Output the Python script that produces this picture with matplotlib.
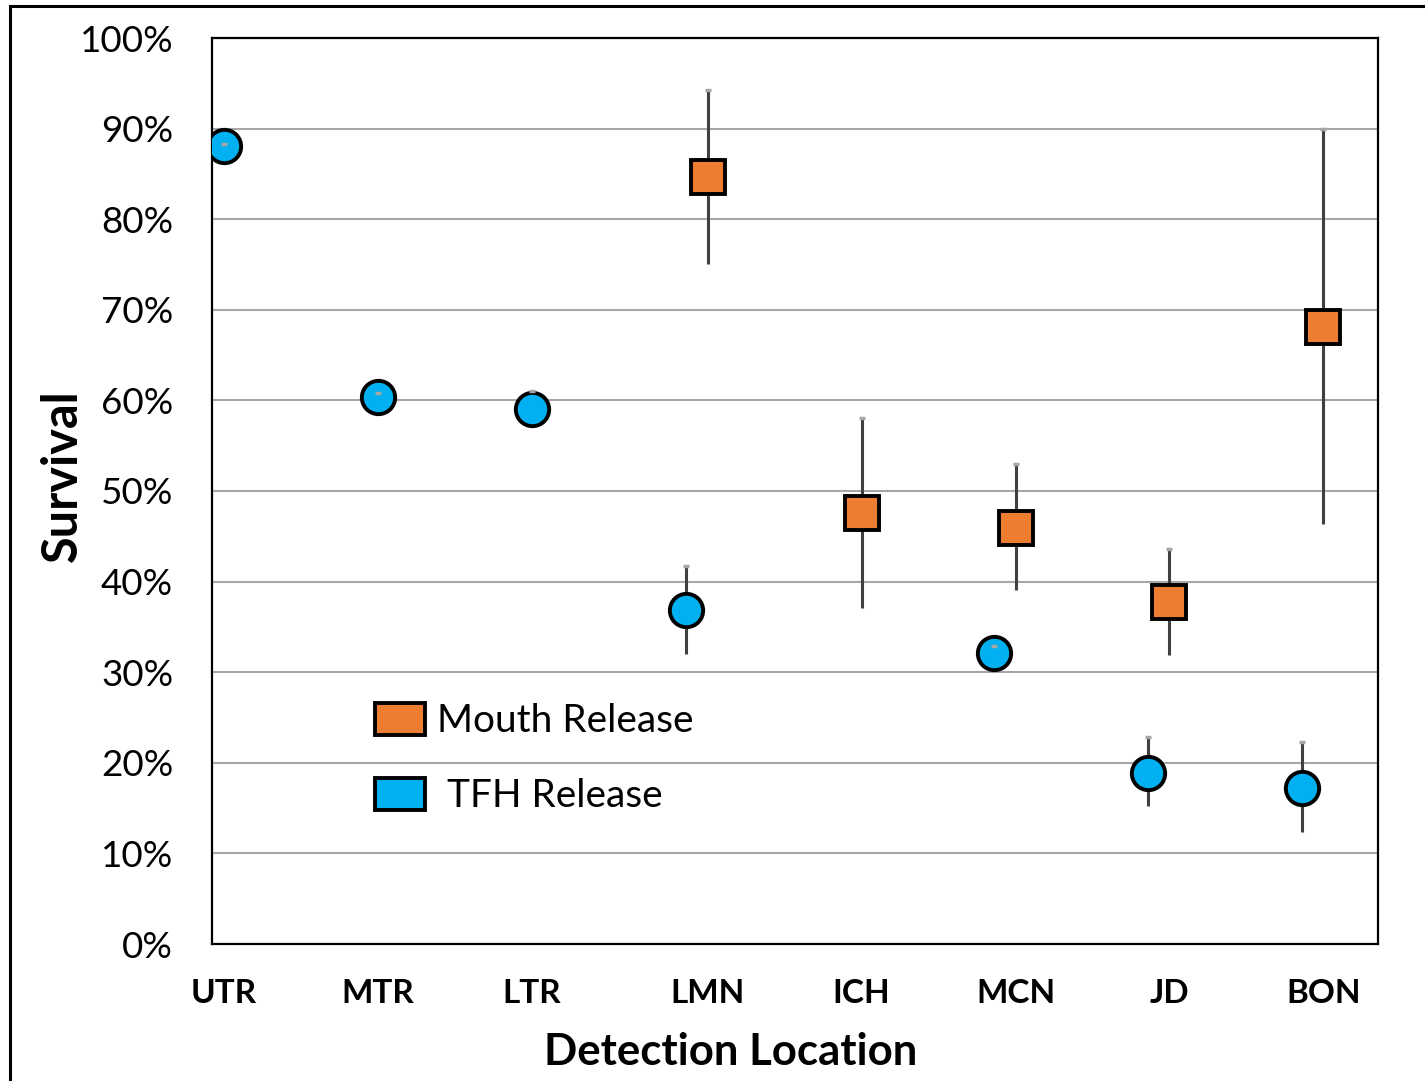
import matplotlib
matplotlib.use("Agg")
import matplotlib.pyplot as plt
from matplotlib.patches import Patch, Rectangle

plt.rcParams["font.family"] = ["Lato", "DejaVu Sans"]

# data
locations = ["UTR", "MTR", "LTR", "LMN", "ICH", "MCN", "JD", "BON"]
label_pos = [1, 2, 3, 4.14, 5.14, 6.14, 7.14, 8.14]

tfh_x = [1, 2, 3, 4, 6, 7, 8]
tfh_y = [88.1, 60.4, 59.0, 36.9, 32.1, 18.9, 17.2]
tfh_lo = [87.9, 60.2, 58.8, 32.0, 31.9, 15.2, 12.4]
tfh_hi = [88.3, 60.8, 61.0, 41.7, 32.9, 22.8, 22.3]

mouth_x = [4.14, 5.14, 6.14, 7.14, 8.14]
mouth_y = [84.7, 47.6, 45.9, 37.7, 68.1]
mouth_lo = [75.1, 37.1, 39.1, 31.9, 46.4]
mouth_hi = [94.3, 58.1, 53.0, 43.6, 90.0]

orange = "#ED7D31"
blue = "#00B0F0"
err_col = "#404040"
cap_col = "#A6A6A6"

fig = plt.figure(figsize=(14.25, 10.81), dpi=100)
ax = fig.add_axes([212 / 1425, 1 - 944 / 1081, 1166 / 1425, 906 / 1081])

for xs, ys, lo, hi, mk, col in [(tfh_x, tfh_y, tfh_lo, tfh_hi, "o", blue),
                                (mouth_x, mouth_y, mouth_lo, mouth_hi, "s", orange)]:
    ax.vlines(xs, lo, hi, color=err_col, linewidth=2.2, zorder=3)
    ax.plot(xs, ys, linestyle="none", marker=mk, markersize=24, markerfacecolor=col,
            markeredgecolor="black", markeredgewidth=2.8, zorder=4)
    ax.plot(xs, hi, linestyle="none", marker="_", markersize=4.5, markeredgewidth=2.5,
            color=cap_col, zorder=5)

ax.set_xlim(0.922, 8.494)
ax.set_ylim(0, 100)
ax.set_yticks(range(0, 101, 10))
ax.set_yticklabels([f"{v}%" for v in range(0, 101, 10)], fontsize=26.5)
ax.set_xticks(label_pos)
ax.set_xticklabels(locations, fontsize=24, fontweight="bold")
ax.tick_params(axis="both", length=0)
ax.tick_params(axis="y", pad=28)
ax.tick_params(axis="x", pad=25)
ax.grid(True, axis="y", color="#A6A6A6", linewidth=1.5, zorder=0)
ax.set_axisbelow(True)
for s in ax.spines.values():
    s.set_linewidth(1.6)

fig.text(62 / 1425, 1 - 476 / 1081, "Survival", rotation=90, ha="center", va="center",
         fontsize=35, fontweight="bold")
fig.text(731 / 1425, 1 - 1052 / 1081, "Detection Location", ha="center", va="center",
         fontsize=31.5, fontweight="bold")

handles = [Patch(facecolor=orange, edgecolor="black", linewidth=2.8),
           Patch(facecolor=blue, edgecolor="black", linewidth=2.8)]
leg = ax.legend(handles, ["Mouth Release", " TFH Release"], loc="upper left",
                bbox_to_anchor=((375 - 212) / 1166, (944 - 703) / 906), frameon=False,
                fontsize=28, handlelength=1.29, handleheight=0.87, handletextpad=0.3,
                labelspacing=1.0, borderaxespad=0, borderpad=0)

fig.add_artist(Rectangle((10 / 1425, -0.2), 1.5, 1.2 - 6 / 1081, transform=fig.transFigure,
                         fill=False, edgecolor="black", linewidth=2.2))

fig.savefig("out.png", dpi=100)
